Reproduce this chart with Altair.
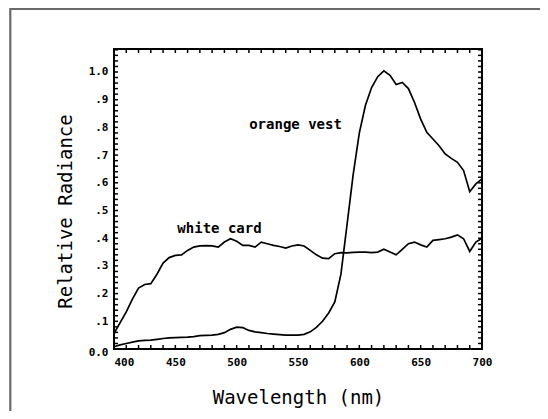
import altair as alt
import pandas as pd

# ---- data ----
wavelength = list(range(400, 705, 5))
white_card = [0.056, 0.095, 0.134, 0.180, 0.220, 0.233, 0.236, 0.270, 0.310, 0.330,
              0.338, 0.340, 0.356, 0.368, 0.372, 0.373, 0.372, 0.368, 0.386, 0.398,
              0.389, 0.374, 0.374, 0.368, 0.386, 0.380, 0.374, 0.370, 0.364, 0.372,
              0.376, 0.372, 0.356, 0.340, 0.328, 0.326, 0.344, 0.348, 0.347, 0.349,
              0.350, 0.350, 0.348, 0.350, 0.360, 0.350, 0.340, 0.360, 0.380, 0.386,
              0.376, 0.368, 0.392, 0.395, 0.398, 0.404, 0.412, 0.398, 0.352, 0.386,
              0.400]
orange_vest = [0.008, 0.015, 0.020, 0.025, 0.029, 0.031, 0.032, 0.035, 0.038, 0.040,
               0.041, 0.042, 0.043, 0.045, 0.048, 0.049, 0.050, 0.053, 0.059, 0.071,
               0.079, 0.077, 0.067, 0.062, 0.059, 0.056, 0.054, 0.052, 0.050, 0.050,
               0.050, 0.053, 0.062, 0.078, 0.100, 0.130, 0.170, 0.270, 0.450, 0.630,
               0.780, 0.880, 0.944, 0.983, 1.004, 0.988, 0.955, 0.962, 0.940, 0.890,
               0.830, 0.782, 0.758, 0.734, 0.704, 0.688, 0.674, 0.644, 0.568, 0.596,
               0.614]
series_names = ["orange vest", "white card"]

x_ticks = list(range(400, 701, 10))
y_ticks = [round(i * 0.02, 2) for i in range(55)]
x_labels = [400, 450, 500, 550, 600, 650, 700]
y_labels = [0.0, 0.1, 0.2, 0.3, 0.4, 0.5, 0.6, 0.7, 0.8, 0.9, 1.0]

label_text = ["orange vest", "white card"]
label_x = [548, 486]
label_y = [0.809, 0.433]

df = pd.DataFrame({
    "wl": wavelength * 2,
    "val": orange_vest + white_card,
    "series": [series_names[0]] * len(wavelength) + [series_names[1]] * len(wavelength),
})
labels_df = pd.DataFrame({"wl": label_x, "val": label_y, "t": label_text})
xt_df = pd.DataFrame({"wl": x_ticks})
yt_df = pd.DataFrame({"val": y_ticks})
one = pd.DataFrame({"a": [0]})

FONT = "DejaVu Sans Mono"
W, H = 368, 300
TL = 4  # tick length (inward)
xs = alt.Scale(domain=[400, 700], nice=False, zero=False)
ys = alt.Scale(domain=[0, 1.083], nice=False, zero=False)

x_bottom = alt.Axis(orient="bottom", values=x_labels, format="d",
                    domain=False, grid=False, ticks=False, labelOverlap=False,
                    labelAlign={"condition": {"test": "datum.value === 400", "value": "left"},
                                "value": "center"},
                    labelPadding=7, labelFont=FONT, labelFontSize=11,
                    labelFontWeight="bold", labelColor="black",
                    titleFont=FONT, titleFontSize=19, titleFontWeight="normal",
                    titleColor="black", titleBaseline="alphabetic", titleY=54)
y_left = alt.Axis(orient="left", values=y_labels,
                  domain=False, grid=False, ticks=False, labelOverlap=False,
                  labelExpr=("datum.value < 0.001 ? '0.0' : (datum.value > 0.999 ? '1.0' : "
                             "'.' + format(datum.value*10, '.0f'))"),
                  labelOffset={"condition": {"test": "datum.value === 0", "value": 3},
                               "value": 0},
                  labelPadding=6, labelFont=FONT, labelFontSize=11,
                  labelFontWeight="bold", labelColor="black",
                  titleFont=FONT, titleFontSize=19, titleFontWeight="normal",
                  titleColor="black", titleBaseline="middle", titleX=-49, titleY=162)

X = lambda: alt.X("wl:Q", scale=xs, axis=x_bottom, title="Wavelength (nm)")
Y = lambda: alt.Y("val:Q", scale=ys, axis=y_left, title="Relative Radiance")

lines = alt.Chart(df).mark_line(color="black", strokeWidth=1.7).encode(
    x=X(), y=Y(), detail="series:N")

texts = alt.Chart(labels_df).mark_text(font=FONT, fontSize=14, fontWeight="bold",
                                       color="black").encode(x=X(), y=Y(), text="t:N")

tick_style = dict(color="black", strokeWidth=1.5)
bottom_ticks = alt.Chart(xt_df).mark_rule(**tick_style).encode(
    x=X(), y=alt.value(H), y2=alt.value(H - TL))
top_ticks = alt.Chart(xt_df).mark_rule(**tick_style).encode(
    x=X(), y=alt.value(0), y2=alt.value(TL))
left_ticks = alt.Chart(yt_df).mark_rule(**tick_style).encode(
    y=Y(), x=alt.value(0), x2=alt.value(TL))
right_ticks = alt.Chart(yt_df).mark_rule(**tick_style).encode(
    y=Y(), x=alt.value(W), x2=alt.value(W - TL))

top_rule = alt.Chart(one).mark_rule(color="#6a6a6a", strokeWidth=2.2).encode(
    x=alt.value(-104), x2=alt.value(430), y=alt.value(-40.2))
left_rule = alt.Chart(one).mark_rule(color="#6a6a6a", strokeWidth=2.2).encode(
    x=alt.value(-103.7), y=alt.value(-41), y2=alt.value(365))

chart = alt.layer(
    lines, texts, bottom_ticks, top_ticks, left_ticks, right_ticks, top_rule, left_rule
).properties(
    width=W, height=H, autosize="none",
    padding={"left": 106, "top": 41, "right": 58, "bottom": 62},
    background="white",
).configure_view(stroke="black", strokeWidth=2)

chart.save("out.html", embed_options={"renderer": "svg", "actions": False})
